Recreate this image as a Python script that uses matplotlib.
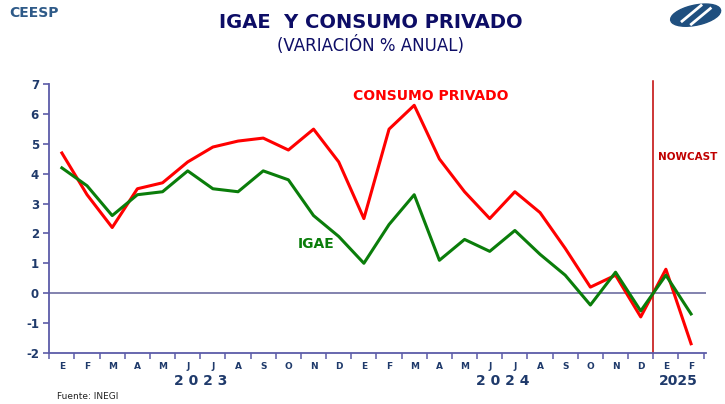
import numpy as np
import matplotlib
matplotlib.use("Agg")
import matplotlib.pyplot as plt
from matplotlib.patches import Ellipse

plt.rcParams['axes.unicode_minus'] = False

# datos (variacion % anual), ene-2023 a feb-2025
meses = ['E', 'F', 'M', 'A', 'M', 'J', 'J', 'A', 'S', 'O', 'N', 'D',
         'E', 'F', 'M', 'A', 'M', 'J', 'J', 'A', 'S', 'O', 'N', 'D',
         'E', 'F']
consumo = [4.7, 3.3, 2.2, 3.5, 3.7, 4.4, 4.9, 5.1, 5.2, 4.8, 5.5, 4.4,
           2.5, 5.5, 6.3, 4.5, 3.4, 2.5, 3.4, 2.7, 1.5, 0.2, 0.6, -0.8,
           0.8, -1.7]
igae = [4.2, 3.6, 2.6, 3.3, 3.4, 4.1, 3.5, 3.4, 4.1, 3.8, 2.6, 1.9,
        1.0, 2.3, 3.3, 1.1, 1.8, 1.4, 2.1, 1.3, 0.6, -0.4, 0.7, -0.6,
        0.6, -0.7]
anios = ['2 0 2 3', '2 0 2 4', '2025']
pos_anios = [5.5, 17.5, 24.5]

navy = '#1f3a6b'
eje = '#5c5ca8'

fig = plt.figure(figsize=(7.25, 4.04), dpi=100)
ax = fig.add_axes([0.068, 0.127, 0.906, 0.664])

x = np.arange(len(meses))
ax.plot(x, consumo, color='#ff0000', lw=2.2, zorder=3)
ax.plot(x, igae, color='#0a7d0a', lw=2.2, zorder=3)
ax.axhline(0, color='#7878a8', lw=1.3, zorder=2)
ax.axvline(23.5, ymin=0, ymax=1.012, color='#c00000', lw=1.1, clip_on=False)

ax.set_xlim(-0.5, 25.6)
ax.set_ylim(-2, 7)

for s in ['top', 'right']:
    ax.spines[s].set_visible(False)
ax.spines['left'].set_color(eje)
ax.spines['bottom'].set_color(eje)
ax.spines['left'].set_linewidth(1.3)
ax.spines['bottom'].set_linewidth(1.3)

ax.set_yticks(range(-2, 8))
ax.tick_params(axis='y', colors=eje, length=4, width=1.2, labelcolor=navy,
               labelsize=8.5)
for t in ax.get_yticklabels():
    t.set_fontweight('bold')

ax.set_xticks(x)
ax.set_xticklabels(meses, fontsize=6.5, fontweight='bold', color=navy)
ax.set_xticks(np.arange(-0.5, 26, 1), minor=True)
ax.tick_params(axis='x', which='major', length=0, pad=7)
ax.tick_params(axis='x', which='minor', length=4, width=1.1, color=eje)

for p, a in zip(pos_anios, anios):
    ax.text(p, -0.105, a, transform=ax.get_xaxis_transform(), ha='center',
            va='center', fontsize=10, fontweight='bold', color=navy)

ax.text(14.64, 6.62, 'CONSUMO PRIVADO', color='#ff0000', fontsize=10,
        fontweight='bold', ha='center', va='center')
ax.text(10.1, 1.63, 'IGAE', color='#0a7d0a', fontsize=10,
        fontweight='bold', ha='center', va='center')
ax.text(24.86, 4.55, 'NOWCAST', color='#c00000', fontsize=7.5,
        fontweight='bold', ha='center', va='center')

fig.text(0.511, 0.945, 'IGAE  Y CONSUMO PRIVADO', ha='center', va='center',
         fontsize=14, fontweight='bold', color='#0d0d66')
fig.text(0.511, 0.888, '(VARIACIÓN % ANUAL)', ha='center', va='center',
         fontsize=12, color='#0d0d66')
fig.text(0.013, 0.968, 'CEESP', ha='left', va='center', fontsize=10,
         fontweight='bold', color='#2e5a88')
fig.text(0.078, 0.018, 'Fuente: INEGI', ha='left', va='center',
         fontsize=6.5, color='#222222')

# logo
lg = fig.add_axes([0.922, 0.925, 0.075, 0.075])
lg.set_xlim(0, 1)
lg.set_ylim(0, 1)
lg.axis('off')
lg.add_patch(Ellipse((0.5, 0.5), 1.0, 0.62, angle=30, color='#1f4f7f'))
lg.plot([0.25, 0.6], [0.3, 0.82], color='white', lw=2)
lg.plot([0.42, 0.77], [0.2, 0.72], color='white', lw=2)

fig.savefig('out.png', dpi=100)
